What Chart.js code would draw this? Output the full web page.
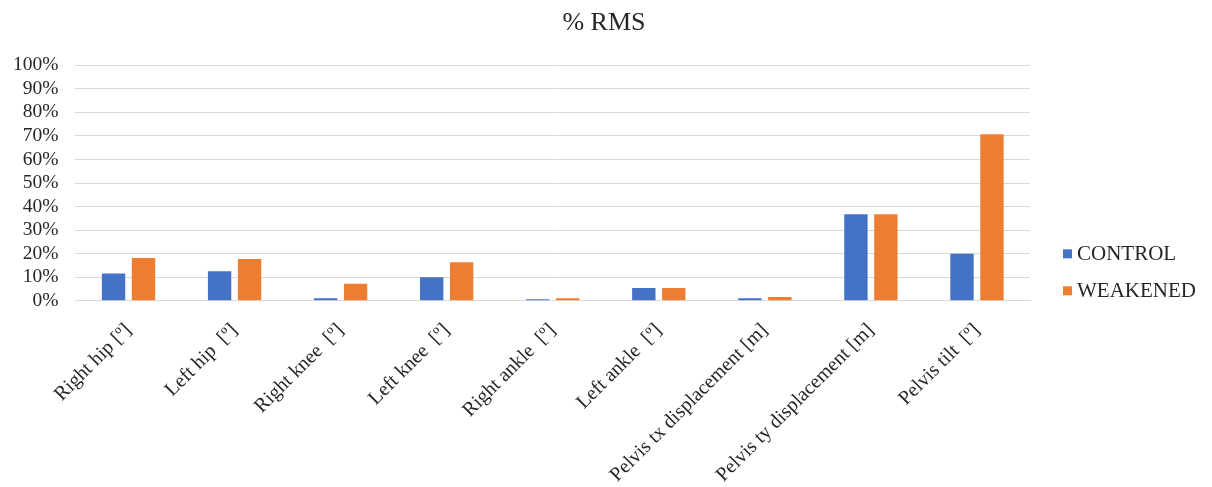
<!DOCTYPE html>
<html>
<head>
<meta charset="utf-8">
<script src="https://cdn.jsdelivr.net/npm/chart.js@4"></script>
<style>
  html, body { margin: 0; padding: 0; background: #fff; }
  #wrap { width: 1212px; height: 487px; }
</style>
</head>
<body>
<div id="wrap"><canvas id="rmsChart"></canvas></div>
<script>
const categories = [
  'Right hip [º]', 'Left hip  [º]', 'Right knee  [º]', 'Left knee  [º]',
  'Right ankle  [º]', 'Left ankle  [º]', 'Pelvis tx displacement [m]',
  'Pelvis ty displacement [m]', 'Pelvis tilt  [º]'
];
const controlRms = [11.6, 12.6, 1.1, 10.0, 0.7, 5.4, 1.1, 36.7, 20.0];
const weakenedRms = [18.2, 17.8, 7.2, 16.4, 1.1, 5.4, 1.6, 36.7, 70.7];
const yTicks = [0, 10, 20, 30, 40, 50, 60, 70, 80, 90, 100];

const FONT = "'Liberation Serif', 'Times New Roman', serif";
const TEXT = '#262626';

// legend drawn in the reserved right-hand strip, next to the lower part of the plot
const sideLegend = {
  id: 'sideLegend',
  afterDraw(chart) {
    const ctx = chart.ctx;
    const area = chart.chartArea;
    const x = area.right + 33;
    const ys = [area.bottom - 47, area.bottom - 10];
    ctx.save();
    ctx.font = '21px ' + FONT;
    ctx.textBaseline = 'middle';
    chart.data.datasets.forEach((ds, i) => {
      ctx.fillStyle = ds.backgroundColor;
      ctx.fillRect(x, ys[i] - 4.5, 9, 9);
      ctx.fillStyle = TEXT;
      ctx.fillText(ds.label, x + 14, ys[i] + 1);
    });
    ctx.restore();
  }
};

new Chart(document.getElementById('rmsChart'), {
  type: 'bar',
  data: {
    labels: categories,
    datasets: [{
      label: 'CONTROL',
      data: controlRms,
      backgroundColor: '#4472C4',
      categoryPercentage: 0.565,
      barPercentage: 0.78
    }, {
      label: 'WEAKENED',
      data: weakenedRms,
      backgroundColor: '#ED7D31',
      categoryPercentage: 0.565,
      barPercentage: 0.78
    }]
  },
  options: {
    responsive: true,
    maintainAspectRatio: false,
    animation: false,
    layout: { padding: { left: -4, right: 0, top: 0, bottom: 2 } },
    plugins: {
      legend: { display: false },
      tooltip: { enabled: false },
      title: {
        display: true,
        text: '% RMS',
        color: TEXT,
        font: { family: FONT, size: 26, weight: 'normal' },
        padding: { top: 8, bottom: 26 }
      }
    },
    scales: {
      x: {
        grid: { display: false },
        border: { color: '#d9d9d9', width: 1 },
        ticks: {
          color: TEXT,
          font: { family: FONT, size: 20 },
          maxRotation: 45,
          minRotation: 45,
          autoSkip: false,
          padding: 10
        },
        // rotated label boxes are measured generously; tighten them
        afterFit(axis) {
          axis.height -= 12;
        }
      },
      y: {
        min: 0,
        max: 100,
        afterBuildTicks(axis) { axis.ticks = yTicks.map(v => ({ value: v })); },
        grid: { color: '#d9d9d9', lineWidth: 1, drawTicks: false },
        border: { display: false },
        ticks: {
          color: TEXT,
          font: { family: FONT, size: 19.5 },
          padding: 17,
          autoSkip: false,
          callback: v => v + '%'
        }
      },
      // empty strip on the right that holds the legend
      legendSpace: {
        type: 'linear',
        position: 'right',
        grid: { display: false },
        border: { display: false },
        ticks: { display: false },
        afterFit(axis) { axis.width = 182; }
      }
    }
  },
  plugins: [sideLegend]
});
</script>
</body>
</html>
